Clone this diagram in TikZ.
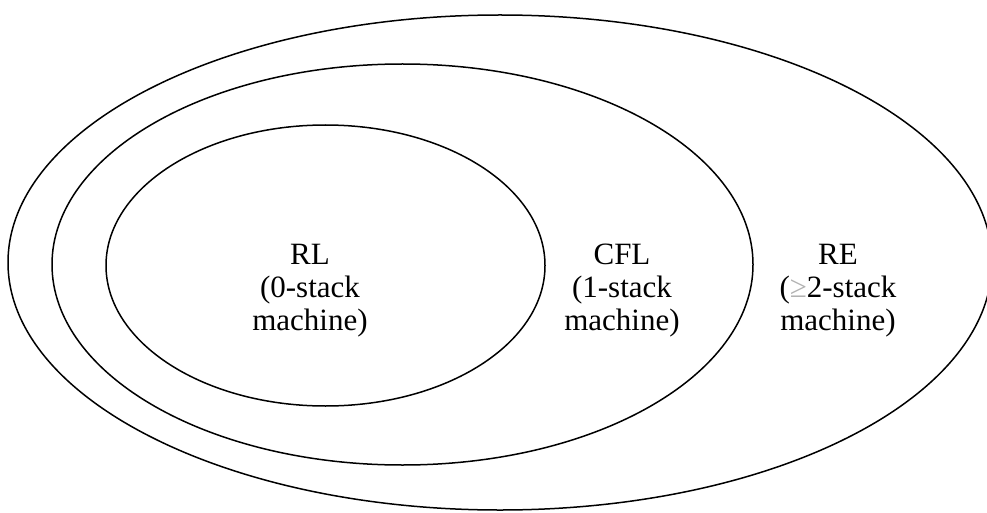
\documentclass[tikz,border=0pt]{standalone}
\usepackage{fontspec}
\setmainfont{Liberation Serif}
\usetikzlibrary{shapes.geometric}
\begin{document}
\begin{tikzpicture}[x=1pt,y=-1pt,
  setring/.style={ellipse, draw, line width=1.5pt, inner sep=0pt},
  setlabel/.style={align=center, inner sep=0pt, anchor=base,
    font=\fontsize{31}{33}\selectfont}]
  \useasboundingbox (0,0) rectangle (987,513);
  \clip (0,0) rectangle (987,513);
  % nested language classes
  \node[setring, minimum width=984pt, minimum height=495pt] (re) at (500,262.5) {};
  \node[setring, minimum width=701pt, minimum height=401pt] (cfl) at (402.5,264.5) {};
  \node[setring, minimum width=439pt, minimum height=281pt] (rl) at (325.5,265.5) {};
  % class names with their machine models (base = last line's baseline)
  \node[setlabel] (rltext) at (310,330) {RL\\(0-stack\\machine)};
  \node[setlabel] (cfltext) at (622,330) {CFL\\(1-stack\\machine)};
  \node[setlabel] (retext) at (838,330) {RE\\({\color{black!30}≥}2-stack\\machine)};
\end{tikzpicture}
\end{document}
